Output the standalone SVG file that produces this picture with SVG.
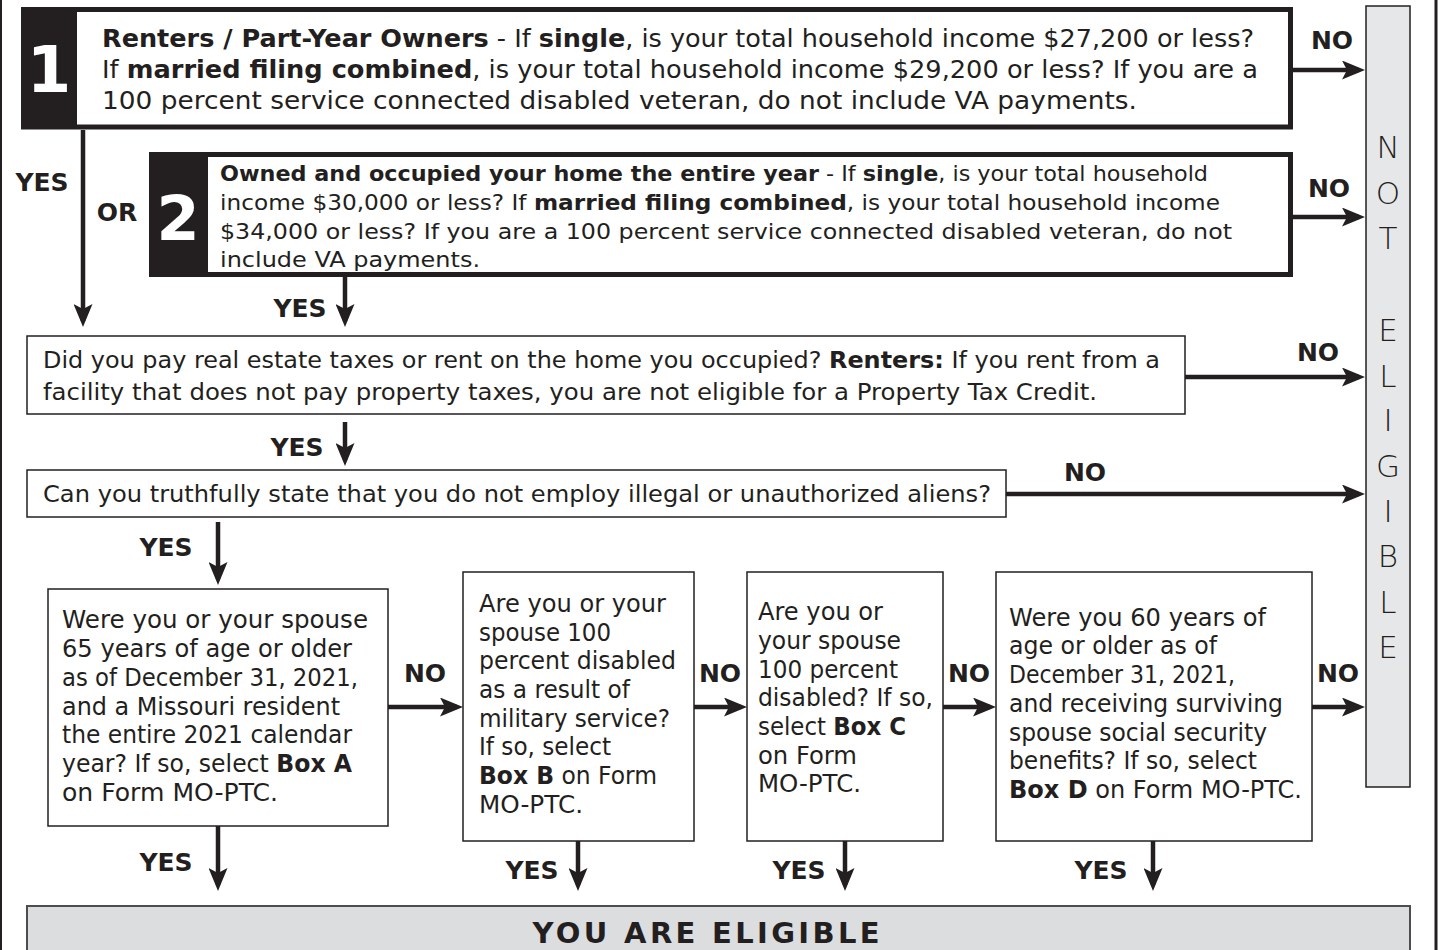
<svg xmlns="http://www.w3.org/2000/svg" width="1438" height="950" viewBox="0 0 1438 950">
<style>
.t{font-family:"DejaVu Sans","Liberation Sans",sans-serif;fill:#231f20}
.b{font-weight:bold}
.s25{font-size:25px}
.s22{font-size:22px}
.s23{font-size:22.5px}
.s24{font-size:24px}
.lbl{font-family:"DejaVu Sans","Liberation Sans",sans-serif;font-weight:bold;font-size:25px;fill:#231f20;text-anchor:middle}
.box{fill:#fff;stroke:#231f20;stroke-width:1.5}
.thick{fill:#fff;stroke:#231f20;stroke-width:5}
.panel{fill:#231f20}
.num{font-family:"DejaVu Sans","Liberation Sans",sans-serif;font-weight:bold;fill:#fff;text-anchor:middle}
.ne{font-family:"DejaVu Sans","Liberation Sans",sans-serif;font-weight:200;font-size:31px;fill:#231f20;text-anchor:middle}
.conn path{fill:none;stroke:#231f20;stroke-width:4.5;marker-end:url(#ah)}
</style>
<defs>
<marker id="ah" markerUnits="userSpaceOnUse" markerWidth="23" markerHeight="19" refX="17" refY="9.5" orient="auto">
<path d="M0,0 L23,9.5 L0,19 L5,9.5 Z" fill="#231f20"/>
</marker>
</defs>
<rect x="0" y="0" width="1438" height="950" fill="#fff"/>
<line x1="1" y1="0" x2="1" y2="950" stroke="#231f20" stroke-width="2"/>
<line x1="1436" y1="0" x2="1436" y2="950" stroke="#231f20" stroke-width="3"/>

<g id="box1">
<rect class="thick" x="23.5" y="9.5" width="1267" height="117.5"/>
<rect class="panel" x="21" y="7" width="56" height="122"/>
<text class="num" x="49" y="92" font-size="64">1</text>
<text class="t s25" x="102" y="47" textLength="1152" lengthAdjust="spacingAndGlyphs"><tspan class="b">Renters / Part-Year Owners</tspan> - If <tspan class="b">single</tspan>, is your total household income $27,200 or less?</text>
<text class="t s25" x="102" y="78" textLength="1156" lengthAdjust="spacingAndGlyphs">If <tspan class="b">married filing combined</tspan>, is your total household income $29,200 or less? If you are a</text>
<text class="t s25" x="102" y="109" textLength="1035" lengthAdjust="spacingAndGlyphs">100 percent service connected disabled veteran, do not include VA payments.</text>
</g>

<g id="box2">
<rect class="thick" x="151.5" y="154.5" width="1139" height="120"/>
<rect class="panel" x="149" y="152" width="59" height="125"/>
<text class="num" x="178" y="240" font-size="62">2</text>
<text class="t s22" x="220" y="181" textLength="988" lengthAdjust="spacingAndGlyphs"><tspan class="b">Owned and occupied your home the entire year</tspan> - If <tspan class="b">single</tspan>, is your total household</text>
<text class="t s22" x="220" y="210" textLength="1000" lengthAdjust="spacingAndGlyphs">income $30,000 or less? If <tspan class="b">married filing combined</tspan>, is your total household income</text>
<text class="t s22" x="220" y="239" textLength="1012" lengthAdjust="spacingAndGlyphs">$34,000 or less? If you are a 100 percent service connected disabled veteran, do not</text>
<text class="t s22" x="220" y="267" textLength="260" lengthAdjust="spacingAndGlyphs">include VA payments.</text>
</g>

<g id="box3">
<rect class="box" x="27" y="336" width="1158" height="78"/>
<text class="t s23" x="43" y="368" textLength="1117" lengthAdjust="spacingAndGlyphs">Did you pay real estate taxes or rent on the home you occupied? <tspan class="b">Renters:</tspan> If you rent from a</text>
<text class="t s23" x="43" y="400" textLength="1054" lengthAdjust="spacingAndGlyphs">facility that does not pay property taxes, you are not eligible for a Property Tax Credit.</text>
</g>

<g id="box4">
<rect class="box" x="27" y="470" width="979" height="47"/>
<text class="t s23" x="43" y="502" textLength="948" lengthAdjust="spacingAndGlyphs">Can you truthfully state that you do not employ illegal or unauthorized aliens?</text>
</g>

<g id="boxA">
<rect class="box" x="48" y="589" width="340" height="237"/>
<text class="t s24" x="62" y="628" textLength="306" lengthAdjust="spacingAndGlyphs">Were you or your spouse</text>
<text class="t s24" x="62" y="657" textLength="290" lengthAdjust="spacingAndGlyphs">65 years of age or older</text>
<text class="t s24" x="62" y="686" textLength="296" lengthAdjust="spacingAndGlyphs">as of December 31, 2021,</text>
<text class="t s24" x="62" y="715" textLength="278" lengthAdjust="spacingAndGlyphs">and a Missouri resident</text>
<text class="t s24" x="62" y="743" textLength="290" lengthAdjust="spacingAndGlyphs">the entire 2021 calendar</text>
<text class="t s24" x="62" y="772" textLength="290" lengthAdjust="spacingAndGlyphs">year? If so, select <tspan class="b">Box A</tspan></text>
<text class="t s24" x="62" y="801" textLength="216" lengthAdjust="spacingAndGlyphs">on Form MO-PTC.</text>
</g>

<g id="boxB">
<rect class="box" x="463" y="572" width="231" height="269"/>
<text class="t s24" x="479" y="612" textLength="187" lengthAdjust="spacingAndGlyphs">Are you or your</text>
<text class="t s24" x="479" y="641" textLength="132" lengthAdjust="spacingAndGlyphs">spouse 100</text>
<text class="t s24" x="479" y="669" textLength="197" lengthAdjust="spacingAndGlyphs">percent disabled</text>
<text class="t s24" x="479" y="698" textLength="151" lengthAdjust="spacingAndGlyphs">as a result of</text>
<text class="t s24" x="479" y="727" textLength="191" lengthAdjust="spacingAndGlyphs">military service?</text>
<text class="t s24" x="479" y="755" textLength="132" lengthAdjust="spacingAndGlyphs">If so, select</text>
<text class="t s24" x="479" y="784" textLength="178" lengthAdjust="spacingAndGlyphs"><tspan class="b">Box B</tspan> on Form</text>
<text class="t s24" x="479" y="813" textLength="104" lengthAdjust="spacingAndGlyphs">MO-PTC.</text>
</g>

<g id="boxC">
<rect class="box" x="747" y="572" width="196" height="269"/>
<text class="t s24" x="758" y="620" textLength="125" lengthAdjust="spacingAndGlyphs">Are you or</text>
<text class="t s24" x="758" y="649" textLength="143" lengthAdjust="spacingAndGlyphs">your spouse</text>
<text class="t s24" x="758" y="678" textLength="140" lengthAdjust="spacingAndGlyphs">100 percent</text>
<text class="t s24" x="758" y="706" textLength="175" lengthAdjust="spacingAndGlyphs">disabled? If so,</text>
<text class="t s24" x="758" y="735" textLength="148" lengthAdjust="spacingAndGlyphs">select <tspan class="b">Box C</tspan></text>
<text class="t s24" x="758" y="764" textLength="99" lengthAdjust="spacingAndGlyphs">on Form</text>
<text class="t s24" x="758" y="792" textLength="103" lengthAdjust="spacingAndGlyphs">MO-PTC.</text>
</g>

<g id="boxD">
<rect class="box" x="996" y="572" width="316" height="269"/>
<text class="t s24" x="1009" y="626" textLength="257" lengthAdjust="spacingAndGlyphs">Were you 60 years of</text>
<text class="t s24" x="1009" y="654" textLength="208" lengthAdjust="spacingAndGlyphs">age or older as of</text>
<text class="t s24" x="1009" y="683" textLength="226" lengthAdjust="spacingAndGlyphs">December 31, 2021,</text>
<text class="t s24" x="1009" y="712" textLength="274" lengthAdjust="spacingAndGlyphs">and receiving surviving</text>
<text class="t s24" x="1009" y="741" textLength="258" lengthAdjust="spacingAndGlyphs">spouse social security</text>
<text class="t s24" x="1009" y="769" textLength="248" lengthAdjust="spacingAndGlyphs">benefits? If so, select</text>
<text class="t s24" x="1009" y="798" textLength="293" lengthAdjust="spacingAndGlyphs"><tspan class="b">Box D</tspan> on Form MO-PTC.</text>
</g>

<g id="notEligible">
<rect x="1366" y="6" width="44" height="781" fill="#e6e7e8" stroke="#231f20" stroke-width="1.5"/>
<text class="ne" x="1388" y="158">N</text>
<text class="ne" x="1388" y="204">O</text>
<text class="ne" x="1388" y="249">T</text>
<text class="ne" x="1388" y="341">E</text>
<text class="ne" x="1388" y="387">L</text>
<text class="ne" x="1388" y="431">I</text>
<text class="ne" x="1388" y="477">G</text>
<text class="ne" x="1388" y="522">I</text>
<text class="ne" x="1388" y="567">B</text>
<text class="ne" x="1388" y="613">L</text>
<text class="ne" x="1388" y="658">E</text>
</g>

<g id="eligible">
<rect x="27" y="906" width="1383" height="60" fill="#dcddde" stroke="#4d4d4f" stroke-width="2"/>
<text x="706" y="943" font-family="DejaVu Sans, Liberation Sans, sans-serif" font-weight="bold" font-size="29" fill="#231f20" text-anchor="middle" textLength="347" lengthAdjust="spacing">YOU ARE ELIGIBLE</text>
</g>

<g id="connectors" class="conn">
<path d="M1293,70 H1359"/>
<path d="M1293,217 H1359"/>
<path d="M83,130 V321"/>
<path d="M345,277 V321"/>
<path d="M1185,377 H1359"/>
<path d="M345,422 V460"/>
<path d="M1006,494 H1359"/>
<path d="M218,522 V579"/>
<path d="M388,707 H457"/>
<path d="M694,707 H741"/>
<path d="M943,707 H990"/>
<path d="M1312,707 H1359"/>
<path d="M218,826 V885"/>
<path d="M578,841 V885"/>
<path d="M845,841 V885"/>
<path d="M1153,841 V885"/>
<text class="lbl" x="1332" y="49">NO</text>
<text class="lbl" x="1329" y="197">NO</text>
<text class="lbl" x="42" y="191">YES</text>
<text class="lbl" x="117" y="221">OR</text>
<text class="lbl" x="300" y="317">YES</text>
<text class="lbl" x="1318" y="361">NO</text>
<text class="lbl" x="297" y="456">YES</text>
<text class="lbl" x="1085" y="481">NO</text>
<text class="lbl" x="166" y="556">YES</text>
<text class="lbl" x="425" y="682">NO</text>
<text class="lbl" x="720" y="682">NO</text>
<text class="lbl" x="969" y="682">NO</text>
<text class="lbl" x="1338" y="682">NO</text>
<text class="lbl" x="166" y="871">YES</text>
<text class="lbl" x="532" y="879">YES</text>
<text class="lbl" x="799" y="879">YES</text>
<text class="lbl" x="1101" y="879">YES</text>
</g>
</svg>
